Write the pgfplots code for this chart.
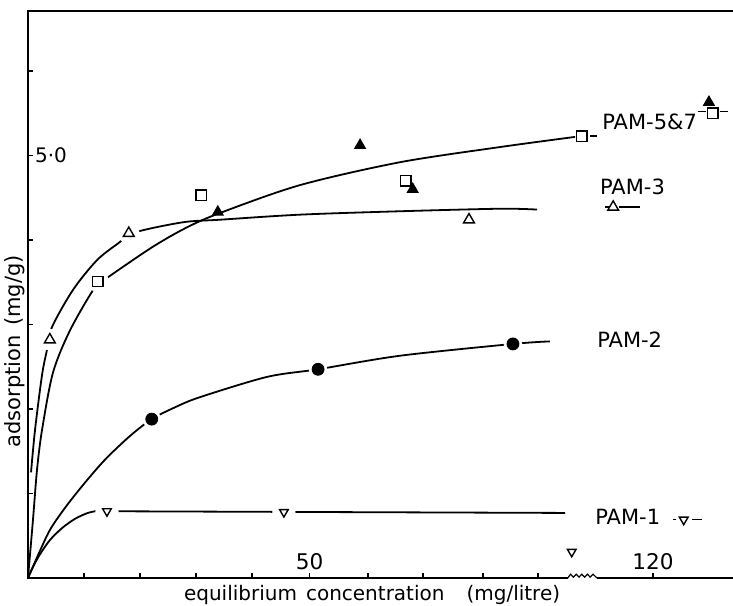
\documentclass[border=0pt]{standalone}
\usepackage{fontspec}
\setmainfont{DejaVu Sans}
\usepackage{pgfplots}
\pgfplotsset{compat=1.18}
\begin{document}
\begin{tikzpicture}
\useasboundingbox (-14pt,-13.5pt) rectangle (352.5pt,289pt);
\begin{axis}[
  at={(0,0)}, anchor=south west,
  scale only axis, width=352.5pt, height=283.5pt,
  xmin=0, xmax=125.9, ymin=0, ymax=6.71,
  axis line style={draw=none},
  clip=false,
  xtick pos=bottom, ytick pos=left,
  tick align=inside,
  major tick length=2.6pt,
  every tick/.style={black, line width=0.8pt},
  xtick={10,20,30,40,50.3,60.7,70.5,81.3,91.1,111.6},
  xticklabels={,,,,50,,,,,120},
  ytick={1,2,3,4,5,6},
  yticklabels={,,,,5·0,},
  xticklabel style={anchor=south, yshift=0.5pt, font=\fontsize{10.8}{13}\selectfont},
  yticklabel style={anchor=west, xshift=0pt, font=\fontsize{10}{12}\selectfont},
]
% frame lines
\draw[line width=1.1pt] (rel axis cs:1,1) -- (rel axis cs:0,1) -- (rel axis cs:0,0) -- (axis cs:96.4,0);
\draw[line width=1.1pt] (axis cs:101.6,0) -- (rel axis cs:1,0);
\addplot[line width=0.6pt] coordinates {(96.4,0) (96.9,0.045) (97.4,0.01) (97.9,0.045) (98.4,0.01) (98.9,0.045) (99.4,0.01) (99.9,0.045) (100.4,0.01) (100.9,0.045) (101.6,0)};

% curves
\addplot[smooth, line width=0.9pt] coordinates {(0,0) (0.89,0.69) (1.61,1.28) (2.5,1.75) (4.46,2.43) (7.5,2.93) (11.96,3.44) (14.3,3.56) (22.3,3.92) (28.4,4.15) (34.3,4.32) (48.6,4.65) (66.4,4.92) (84.3,5.10) (97.7,5.22)};
\addplot[smooth, line width=0.9pt] coordinates {(0.54,1.25) (1.25,1.75) (2.5,2.40) (3.39,2.70) (4.29,2.97) (8.04,3.41) (12.3,3.76) (16.1,3.96) (19.1,4.09) (27.7,4.21) (34.3,4.24) (48.6,4.30) (66.4,4.34) (84.3,4.37) (90.9,4.36)};
\addplot[smooth, line width=0.9pt] coordinates {(0,0) (1.79,0.27) (3.93,0.57) (6.61,0.83) (9.82,1.10) (13.75,1.40) (18.2,1.68) (22.1,1.88) (26.25,2.02) (30.7,2.14) (42.7,2.38) (51.8,2.47) (66.4,2.63) (86.6,2.77) (93.2,2.80)};
\addplot[smooth, line width=0.9pt] coordinates {(0,0) (0.89,0.13) (2.14,0.28) (3.93,0.45) (6.07,0.59) (8.39,0.70) (10.7,0.77) (12.9,0.80) (14.1,0.80)};
\addplot[line width=0.9pt] coordinates {(14.1,0.79) (95.9,0.77)};

% gaps around markers
\addplot[only marks, mark=*, mark size=5.2pt, mark options={draw=white, fill=white}] coordinates {(12.5,3.51) (3.9,2.82) (18.0,4.08)};
\addplot[only marks, mark=*, mark size=5.6pt, mark options={draw=white, fill=white}] coordinates {(14.1,0.79) (45.7,0.78)};
\addplot[only marks, mark=*, mark size=4.4pt, mark options={draw=white, fill=white}] coordinates {(22.1,1.88) (51.8,2.47) (86.6,2.77)};

% legend-like dashes
\addplot[line width=0.8pt] coordinates {(100.4,5.23) (101.6,5.23)};
\addplot[line width=0.8pt] coordinates {(119.6,5.52) (121.1,5.52)};
\addplot[line width=0.8pt] coordinates {(123.6,5.52) (125.0,5.52)};
\addplot[line width=0.8pt] coordinates {(103.0,4.39) (103.75,4.39)};
\addplot[line width=0.8pt] coordinates {(105.5,4.39) (109.3,4.39)};
\addplot[line width=0.8pt] coordinates {(115.2,0.69) (115.7,0.69)};
\addplot[line width=0.8pt] coordinates {(118.6,0.69) (120.4,0.69)};

% markers
\addplot[only marks, mark=square*, mark size=2.6pt, mark options={fill=white, draw=black, line width=0.7pt}] coordinates {(12.5,3.51) (30.9,4.53) (67.5,4.70) (98.9,5.23) (122.3,5.50)};
\addplot[only marks, mark=triangle*, mark size=3.1pt, mark options={fill=black, draw=black, line width=0.5pt}] coordinates {(33.9,4.33) (59.3,5.12) (68.7,4.60) (121.6,5.63)};
\addplot[only marks, mark=triangle*, mark size=3.1pt, mark options={fill=white, draw=black, line width=0.7pt}] coordinates {(3.9,2.82) (18.0,4.08) (78.75,4.24) (104.5,4.39)};
\addplot[only marks, mark=*, mark size=3pt, mark options={fill=black, draw=black}] coordinates {(22.1,1.88) (51.8,2.47) (86.6,2.77)};
\addplot[only marks, mark=triangle*, mark size=2.5pt, mark options={fill=white, draw=black, line width=0.7pt, rotate=180}] coordinates {(14.1,0.79) (45.7,0.78) (97.1,0.31) (117.1,0.69)};

% labels
\node[anchor=west, inner sep=0pt, font=\fontsize{10.5}{12}\selectfont] at (axis cs:102.5,5.40) {PAM-5\&7};
\node[anchor=west, inner sep=0pt, font=\fontsize{10.5}{12}\selectfont] at (axis cs:102.1,4.63) {PAM-3};
\node[anchor=west, inner sep=0pt, font=\fontsize{10.5}{12}\selectfont] at (axis cs:101.6,2.82) {PAM-2};
\node[anchor=west, inner sep=0pt, font=\fontsize{10.5}{12}\selectfont] at (axis cs:101.25,0.72) {PAM-1};
\node[xshift=-6.5pt, rotate=90, inner sep=0pt, font=\fontsize{10.5}{12}\selectfont] at (rel axis cs:0,0.40) {adsorption\hspace{0.45em}(mg/g)};
\node[yshift=-8.5pt, inner sep=0pt, font=\fontsize{10}{12}\selectfont] at (rel axis cs:0.488,0) {equilibrium\hspace{0.45em}concentration\hspace{1.1em}(mg/litre)};
\end{axis}
\end{tikzpicture}
\end{document}
